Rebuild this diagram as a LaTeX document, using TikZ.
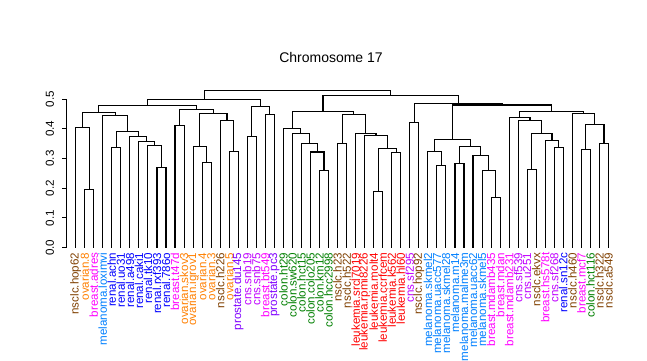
\documentclass[tikz,border=0pt]{standalone}
\usepackage{fontspec}
\setmainfont{Liberation Sans}
\usetikzlibrary{calc}
\definecolor{cnsclc}{RGB}{128,64,0}
\definecolor{covar}{RGB}{255,128,0}
\definecolor{cbreast}{RGB}{255,0,255}
\definecolor{cmel}{RGB}{0,128,255}
\definecolor{crenal}{RGB}{0,0,255}
\definecolor{cpros}{RGB}{128,0,255}
\definecolor{ccns}{RGB}{192,0,255}
\definecolor{ccolon}{RGB}{0,128,0}
\definecolor{cleuk}{RGB}{255,0,0}
\newcommand\lf[3]{%
  \coordinate (L#1) at ({75.7+(#1-1)*9.03},112.3);
  \node[leaflab,text=#3] (T#1) at ({75.7+(#1-1)*9.03},107.5) {#2};}
\newcommand\mrg[4]{%
  \path let \p1=(#2), \p2=(#3) in coordinate (#1) at ({0.5*\x1+0.5*\x2},{112.3pt+297.3pt*#4});
  \draw[treeline] (#2) |- (#1) -| (#3);}
\begin{document}
\begin{tikzpicture}[x=1pt,y=1pt,
  treeline/.style={line width=1.1pt},
  leaflab/.style={rotate=90,anchor=east,inner sep=0pt,font=\fontsize{11.6}{11.6}\selectfont},
  axlab/.style={rotate=90,anchor=center,inner sep=0pt,font=\fontsize{11.6}{11.6}\selectfont}]
\useasboundingbox (0,0) rectangle (647,360);
\fill[white] (0,0) rectangle (647,360);
\node[font=\fontsize{14}{14}\selectfont] (title) at (331,303) {Chromosome 17};
% axis
\coordinate (a0) at (66.7,112.3);
\coordinate (a5) at (66.7,{112.3+297.3*0.5});
\draw[line width=1pt] (a0) -- (a5);
\foreach \i in {0,...,5} {
  \coordinate (tk\i) at (66.7,{112.3+29.73*\i});
  \draw[line width=1pt] (tk\i) -- ++(-5,0);
  \node[axlab] (ax\i) at (50,{112.3+29.73*\i}) {0.\i};
}
% leaves
\lf{1}{nsclc.hop62}{cnsclc}
\lf{2}{ovarian.8}{covar}
\lf{3}{breast.adres}{cbreast}
\lf{4}{melanoma.loximvi}{cmel}
\lf{5}{renal.achn}{crenal}
\lf{6}{renal.uo31}{crenal}
\lf{7}{renal.a498}{crenal}
\lf{8}{renal.caki1}{crenal}
\lf{9}{renal.tk10}{crenal}
\lf{10}{renal.rxf393}{crenal}
\lf{11}{renal.786o}{crenal}
\lf{12}{breast.t47d}{cbreast}
\lf{13}{ovarian.skov3}{covar}
\lf{14}{ovarian.igrov1}{covar}
\lf{15}{ovarian.4}{covar}
\lf{16}{ovarian.3}{covar}
\lf{17}{nsclc.h226}{cnsclc}
\lf{18}{ovarian.5}{covar}
\lf{19}{prostate.du145}{cpros}
\lf{20}{cns.snb19}{ccns}
\lf{21}{cns.snb75}{ccns}
\lf{22}{breast.bt549}{cbreast}
\lf{23}{prostate.pc3}{cpros}
\lf{24}{colon.ht29}{ccolon}
\lf{25}{colon.sw620}{ccolon}
\lf{26}{colon.hct15}{ccolon}
\lf{27}{colon.colo205}{ccolon}
\lf{28}{colon.km12}{ccolon}
\lf{29}{colon.hcc2998}{ccolon}
\lf{30}{nsclc.h23}{cnsclc}
\lf{31}{nsclc.h522}{cnsclc}
\lf{32}{leukemia.srcl7019}{cleuk}
\lf{33}{leukemia.rpmi8226}{cleuk}
\lf{34}{leukemia.molt4}{cleuk}
\lf{35}{leukemia.ccrfcem}{cleuk}
\lf{36}{leukemia.k562}{cleuk}
\lf{37}{leukemia.hl60}{cleuk}
\lf{38}{cns.sf295}{ccns}
\lf{39}{nsclc.hop92}{cnsclc}
\lf{40}{melanoma.skmel2}{cmel}
\lf{41}{melanoma.uacc577}{cmel}
\lf{42}{melanoma.skmel28}{cmel}
\lf{43}{melanoma.m14}{cmel}
\lf{44}{melanoma.malme3m}{cmel}
\lf{45}{melanoma.uacc62}{cmel}
\lf{46}{melanoma.skmel5}{cmel}
\lf{47}{breast.mdamb435}{cbreast}
\lf{48}{breast.mdan}{cbreast}
\lf{49}{breast.mdamb231}{cbreast}
\lf{50}{cns.sf539}{ccns}
\lf{51}{cns.u251}{ccns}
\lf{52}{nsclc.ekvx}{cnsclc}
\lf{53}{breast.hs578t}{cbreast}
\lf{54}{cns.sf268}{ccns}
\lf{55}{renal.sn12c}{crenal}
\lf{56}{nsclc.h460}{cnsclc}
\lf{57}{breast.mcf7}{cbreast}
\lf{58}{colon.hct116}{ccolon}
\lf{59}{nsclc.h322}{cnsclc}
\lf{60}{nsclc.a549}{cnsclc}
% merges
\mrg{n23}{L2}{L3}{0.197}
\mrg{n1}{L1}{n23}{0.404}
\mrg{n56}{L5}{L6}{0.338}
\mrg{n1011}{L10}{L11}{0.270}
\mrg{nL}{L9}{n1011}{0.343}
\mrg{nK}{L8}{nL}{0.357}
\mrg{nJ}{L7}{nK}{0.373}
\mrg{nI}{n56}{nJ}{0.390}
\mrg{nH2}{L4}{nI}{0.445}
\mrg{nH}{n1}{nH2}{0.455}
\mrg{n1213}{L12}{L13}{0.412}
\mrg{n1516}{L15}{L16}{0.287}
\mrg{nN}{L14}{n1516}{0.341}
\mrg{n1819}{L18}{L19}{0.325}
\mrg{nO}{L17}{n1819}{0.4285}
\mrg{nM}{nN}{nO}{0.452}
\mrg{nC}{n1213}{nM}{0.4655}
\mrg{nA}{nH}{nC}{0.477}
\mrg{n2021}{L20}{L21}{0.373}
\mrg{n2223}{L22}{L23}{0.449}
\mrg{nB}{n2021}{n2223}{0.476}
\mrg{nP}{nA}{nB}{0.498}
\mrg{n2829}{L28}{L29}{0.261}
\mrg{nq4}{L27}{n2829}{0.322}
\mrg{nq3}{L26}{nq4}{0.349}
\mrg{nq2}{L25}{nq3}{0.385}
\mrg{nQ}{L24}{nq2}{0.4016}
\mrg{n3031}{L30}{L31}{0.351}
\mrg{n3435}{L34}{L35}{0.190}
\mrg{n3637}{L36}{L37}{0.321}
\mrg{nU}{n3435}{n3637}{0.334}
\mrg{nT}{L33}{nU}{0.378}
\mrg{nS}{L32}{nT}{0.385}
\mrg{nR}{n3031}{nS}{0.449}
\mrg{nE}{nQ}{nR}{0.459}
\mrg{n3839}{L38}{L39}{0.422}
\mrg{n4142}{L41}{L42}{0.277}
\mrg{nX}{L40}{n4142}{0.325}
\mrg{n4344}{L43}{L44}{0.284}
\mrg{n4748}{L47}{L48}{0.1695}
\mrg{nz2}{L46}{n4748}{0.260}
\mrg{nZ}{L45}{nz2}{0.311}
\mrg{nY}{n4344}{nZ}{0.341}
\mrg{nV}{nX}{nY}{0.3646}
\mrg{n5152}{L51}{L52}{0.2636}
\mrg{n5455}{L54}{L55}{0.338}
\mrg{nw4}{L53}{n5455}{0.361}
\mrg{nw3}{n5152}{nw4}{0.385}
\mrg{nw2}{L50}{nw3}{0.4285}
\mrg{nW1}{L49}{nw2}{0.4386}
\mrg{n5758}{L57}{L58}{0.331}
\mrg{n5960}{L59}{L60}{0.351}
\mrg{nw6}{n5758}{n5960}{0.415}
\mrg{nW2}{L56}{nw6}{0.452}
\mrg{nW}{nW1}{nW2}{0.459}
\mrg{nG}{nV}{nW}{0.480}
\mrg{nF}{n3839}{nG}{0.486}
\mrg{nD}{nE}{nF}{0.5126}
\mrg{root}{nP}{nD}{0.529}
\end{tikzpicture}
\end{document}
